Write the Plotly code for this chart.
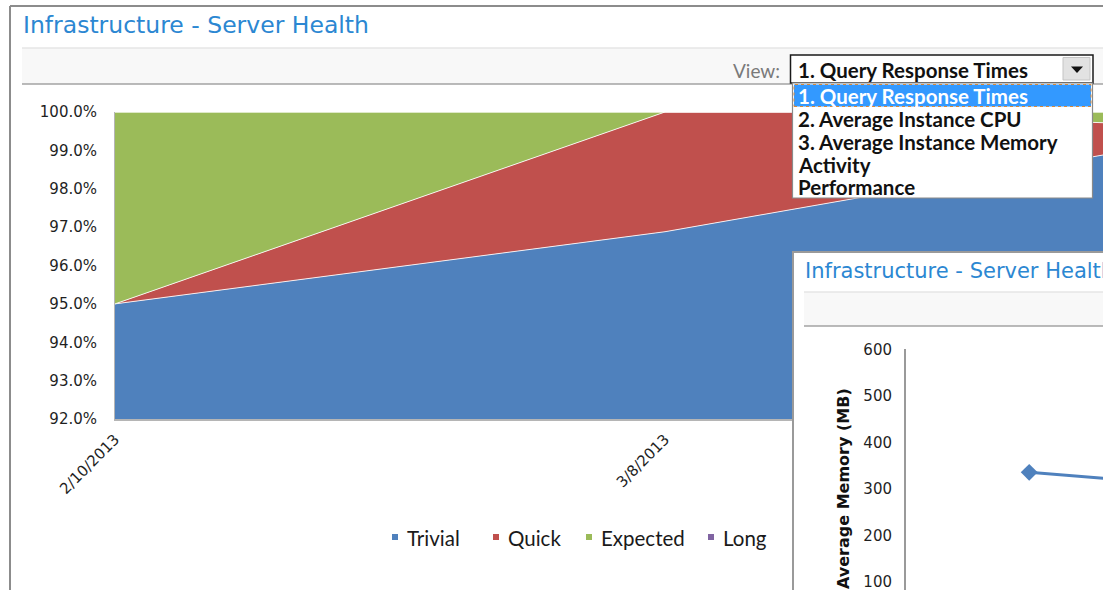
import plotly.graph_objects as go

W, H = 1103, 590

# ---------------- data ----------------
dates = ["2013-02-10", "2013-03-08", "2013-03-14", "2013-04-03"]
trivial = [0.9500, 0.9688, 0.9746, 0.9939]
quick = [0.0000, 0.0312, 0.0254, 0.0023]
expected = [0.0500, 0.0000, 0.0000, 0.0038]
long_ = [0.0, 0.0, 0.0, 0.0]
series_names = ["Trivial", "Quick", "Expected", "Long"]
series_colors = ["#4F81BD", "#C0504D", "#9BBB59", "#8064A2"]

tick_dates = ["2013-02-10", "2013-03-08", "2013-04-03"]
tick_labels = ["2/10/2013", "3/8/2013", "4/3/2013"]
y_ticks = [0.92, 0.93, 0.94, 0.95, 0.96, 0.97, 0.98, 0.99, 1.00]

view_options = ["1. Query Response Times", "2. Average Instance CPU",
                "3. Average Instance Memory", "Activity", "Performance"]

mem_dates = ["2013-02-10", "2013-03-08"]
mem_values = [336, 298]
mem_ticks = [100, 200, 300, 400, 500, 600]

title_text = "Infrastructure - Server Health"
mem_axis_title = "Average Memory (MB)"


def px(x):
    return x / W


def py(y):
    return 1 - y / H


fig = go.Figure()

series_vals = [trivial, quick, expected, long_]
for name, vals, col in zip(series_names, series_vals, series_colors):
    fig.add_trace(go.Scatter(
        x=dates, y=vals, name=name, stackgroup="one", mode="lines",
        line=dict(width=1, color="rgba(255,255,255,0.85)"),
        fillcolor=col, showlegend=False, hoverinfo="skip",
        xaxis="x", yaxis="y"))

# inset chart (its subplot covers the whole inset window; its white
# background is drawn over the main chart because the domains overlap)
fig.add_trace(go.Scatter(
    x=mem_dates, y=mem_values, mode="lines+markers",
    line=dict(color="#4F81BD", width=3),
    marker=dict(symbol="diamond", size=13, color="#4F81BD"),
    showlegend=False, hoverinfo="skip", xaxis="x2", yaxis="y2"))

tick_font = dict(family="DejaVu Sans", size=15, color="#1f1f1f")

shapes = []
annotations = []

# ---- outer frame and header band (main window) ----
shapes += [
    dict(type="line", xref="paper", yref="paper", x0=px(10), x1=px(10),
         y0=py(6), y1=py(600), line=dict(color="#8c8c8c", width=2), layer="below"),
    dict(type="line", xref="paper", yref="paper", x0=px(10), x1=px(1110),
         y0=py(6), y1=py(6), line=dict(color="#8c8c8c", width=2), layer="below"),
    dict(type="rect", xref="paper", yref="paper", x0=px(22), x1=px(1110),
         y0=py(84), y1=py(48), fillcolor="#f8f8f8", line=dict(width=0), layer="below"),
    dict(type="line", xref="paper", yref="paper", x0=px(22), x1=px(1110),
         y0=py(48), y1=py(48), line=dict(color="#e6e6e6", width=1.5), layer="below"),
    dict(type="line", xref="paper", yref="paper", x0=px(22), x1=px(1110),
         y0=py(84), y1=py(84), line=dict(color="#a3a3a3", width=1.5), layer="below"),
]
annotations.append(dict(
    text=title_text, xref="paper", yref="paper", x=px(21), y=py(25),
    xanchor="left", yanchor="middle", showarrow=False,
    font=dict(family="DejaVu Sans", size=23.5, color="#2B87D2")))

# ---- legend (manual, Excel style) ----
leg_marker_x = [395, 496, 589, 711]
leg_text_x = [405, 506, 599, 721]
for name, col, mx, tx in zip(series_names, series_colors, leg_marker_x, leg_text_x):
    shapes.append(dict(type="rect", xref="paper", yref="paper",
                       x0=px(mx - 3), x1=px(mx + 3), y0=py(540), y1=py(534),
                       fillcolor=col, line=dict(width=0), layer="below"))
    annotations.append(dict(
        text=name, xref="paper", yref="paper", x=px(tx), y=py(538),
        xanchor="left", yanchor="middle", showarrow=False,
        font=dict(family="Lato", size=20.5, color="#1a1a1a")))

# ---- inset window chrome ----
shapes += [
    dict(type="line", xref="paper", yref="paper", x0=px(793), x1=px(793),
         y0=py(251), y1=py(600), line=dict(color="#9a9a9a", width=2), layer="above"),
    dict(type="line", xref="paper", yref="paper", x0=px(792), x1=px(1110),
         y0=py(252), y1=py(252), line=dict(color="#9a9a9a", width=2), layer="above"),
    dict(type="rect", xref="paper", yref="paper", x0=px(804), x1=px(1110),
         y0=py(326), y1=py(292), fillcolor="#f8f8f8", line=dict(width=0), layer="above"),
    dict(type="line", xref="paper", yref="paper", x0=px(804), x1=px(1110),
         y0=py(292), y1=py(292), line=dict(color="#e6e6e6", width=1.5), layer="above"),
    dict(type="line", xref="paper", yref="paper", x0=px(804), x1=px(1110),
         y0=py(326), y1=py(326), line=dict(color="#a3a3a3", width=1.5), layer="above"),
    # inset value-axis line (only along the plotted part)
    dict(type="line", xref="paper", yref="paper", x0=px(905), x1=px(905),
         y0=py(349), y1=py(600), line=dict(color="#9a9a9a", width=2), layer="above"),
]
annotations.append(dict(
    text=title_text, xref="paper", yref="paper", x=px(803), y=py(271),
    xanchor="left", yanchor="middle", showarrow=False,
    font=dict(family="DejaVu Sans", size=21, color="#2B87D2")))
annotations.append(dict(
    text="<b>" + mem_axis_title + "</b>", xref="paper", yref="paper",
    x=px(843), y=py(489), textangle=-90, xanchor="center", yanchor="middle",
    showarrow=False, font=dict(family="DejaVu Sans", size=16, color="#111111")))

# ---- "View:" dropdown ----
annotations.append(dict(
    text="View:", xref="paper", yref="paper", x=px(782), y=py(70),
    xanchor="right", yanchor="middle", showarrow=False,
    font=dict(family="Lato", size=19, color="#7a7a7a")))
shapes += [
    dict(type="rect", xref="paper", yref="paper", x0=px(790.5), x1=px(1093),
         y0=py(83), y1=py(55), fillcolor="white",
         line=dict(color="#1a1a1a", width=1.5), layer="above"),
    dict(type="rect", xref="paper", yref="paper", x0=px(1063), x1=px(1090),
         y0=py(80), y1=py(57.5), fillcolor="#e2e2e2",
         line=dict(color="#c4c4c4", width=1), layer="above"),
    dict(type="path", xref="paper", yref="paper",
         path="M %f %f L %f %f L %f %f Z" % (px(1071), py(66.5), px(1083), py(66.5),
                                             px(1077), py(73)),
         fillcolor="#111111", line=dict(width=0), layer="above"),
    dict(type="rect", xref="paper", yref="paper", x0=px(792.5), x1=px(1092.5),
         y0=py(198), y1=py(83), fillcolor="white",
         line=dict(color="#8a8a8a", width=1.2), layer="above"),
    dict(type="rect", xref="paper", yref="paper", x0=px(794), x1=px(1091),
         y0=py(106.5), y1=py(84.5), fillcolor="#3399FF",
         line=dict(color="#D98A3A", width=1, dash="dot"), layer="above"),
]
annotations.append(dict(
    text="<b>" + view_options[0] + "</b>", xref="paper", yref="paper",
    x=px(796), y=py(70), xanchor="left", yanchor="middle", showarrow=False,
    font=dict(family="Lato", size=20.5, color="#111111")))
item_y = [96, 119, 142, 165, 187]
for i, (opt, yy) in enumerate(zip(view_options, item_y)):
    annotations.append(dict(
        text="<b>" + opt + "</b>", xref="paper", yref="paper",
        x=px(796), y=py(yy), xanchor="left", yanchor="middle", showarrow=False,
        font=dict(family="Lato", size=20.5, color="white" if i == 0 else "#111111")))

# main x range: 2/10 at px 115, 21.154 px/day -> right edge 1103
# inset: 600 at y=349, 0.466 px per MB; 2/10 at x=1029, 8.5 px/day
fig.update_layout(
    template="none",
    width=W, height=H,
    margin=dict(l=0, r=0, t=0, b=0),
    paper_bgcolor="white", plot_bgcolor="white",
    showlegend=False,
    xaxis=dict(domain=[px(115), 1], range=["2013-02-10", "2013-03-28 16:57"],
               type="date", tickvals=tick_dates, ticktext=tick_labels,
               tickangle=-45, tickfont=tick_font, ticks="", showgrid=False,
               zeroline=False, showline=True, linecolor="#b5b5b5", linewidth=1.5,
               automargin=False, ticklabelstandoff=4, anchor="y"),
    yaxis=dict(domain=[py(419), py(112)], range=[0.92, 1.0], tickvals=y_ticks,
               tickformat=".1%", tickfont=tick_font, ticks="", showgrid=False,
               zeroline=False, showline=True, linecolor="#b5b5b5", linewidth=1,
               automargin=False, ticklabelstandoff=14, anchor="x"),
    xaxis2=dict(domain=[px(794), 1], range=["2013-01-13 05:45", "2013-02-18 17:00"],
                type="date", visible=False, anchor="y2"),
    yaxis2=dict(domain=[0, py(253)], range=[82.8, 808.2], tickvals=mem_ticks,
                tickfont=tick_font, ticks="", showgrid=False, zeroline=False,
                showline=False, anchor="free", position=px(905),
                ticklabeloverflow="allow",
                automargin=False, ticklabelstandoff=13),
    shapes=shapes,
    annotations=annotations,
)

fig.write_html("out.html", config={"displayModeBar": False},
               post_script="document.body.style.margin='0px';document.body.style.overflow='hidden';")
